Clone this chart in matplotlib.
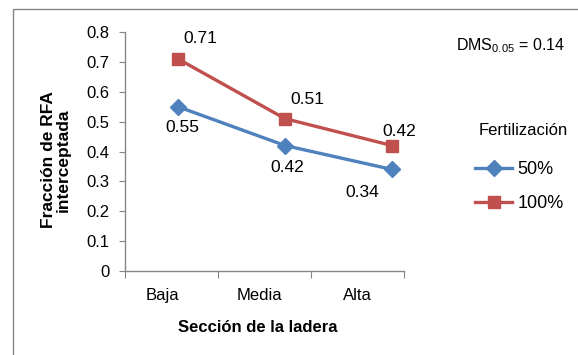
import numpy as np
import matplotlib
matplotlib.use("Agg")
import matplotlib.pyplot as plt
from matplotlib.patches import Rectangle

plt.rcParams["font.family"] = ["Liberation Sans", "DejaVu Sans"]
plt.rcParams["mathtext.default"] = "regular"

sections = ["Baja", "Media", "Alta"]
fert_50 = [0.55, 0.42, 0.34]
fert_100 = [0.71, 0.51, 0.42]
series_names = ["50%", "100%"]

blue = "#4F81BD"
red = "#C0504D"
grey = "#868686"

fig = plt.figure(figsize=(5.78, 3.55), dpi=100)
W, H = 578, 355

# outer chart frame
fig.patches.append(Rectangle((13 / W, -0.1), 1.2, 1 - 9 / H + 0.1,
                             transform=fig.transFigure, fill=False,
                             edgecolor=grey, linewidth=1.0))

ax = fig.add_axes([125 / W, 1 - 271 / H, (404 - 125) / W, (271 - 32) / H])
ax.set_xlim(0, 3)
ax.set_ylim(0, 0.8)
ax.set_facecolor("none")
for s in ["top", "right"]:
    ax.spines[s].set_visible(False)
for s in ["left", "bottom"]:
    ax.spines[s].set_color(grey)
    ax.spines[s].set_linewidth(1.0)

ax.set_yticks(np.arange(0, 0.81, 0.1))
ax.set_yticklabels(["0"] + [f"{v:.1f}" for v in np.arange(0.1, 0.81, 0.1)])
ax.tick_params(axis="y", direction="out", length=4, color=grey, labelsize=12, pad=7)

# category boundaries as major ticks, names as minor ticks
ax.set_xticks([0, 1, 2, 3])
ax.set_xticklabels([])
ax.tick_params(axis="x", which="major", direction="out", length=5, color=grey)
label_x = 0.4 + 1.05 * np.arange(len(sections))
ax.set_xticks(label_x, minor=True)
ax.set_xticklabels(sections, minor=True)
ax.tick_params(axis="x", which="minor", length=0, labelsize=12, pad=12)

x = 0.57 + 1.15 * np.arange(len(sections))
l1, = ax.plot(x, fert_50, color=blue, lw=2.4, marker="D", ms=8.5,
              markeredgecolor=blue, clip_on=False)
l2, = ax.plot(x, fert_100, color=red, lw=2.4, marker="s", ms=9,
              markeredgecolor=red, clip_on=False)

off_50 = [(4, -21), (2, -22), (-30, -23)]
off_100 = [(22, 20), (22, 19), (7, 14)]
for xi, v, o in zip(x, fert_50, off_50):
    ax.annotate(f"{v:.2f}", (xi, v), xytext=o, textcoords="offset pixels",
                ha="center", va="center", fontsize=12.5)
for xi, v, o in zip(x, fert_100, off_100):
    ax.annotate(f"{v:.2f}", (xi, v), xytext=o, textcoords="offset pixels",
                ha="center", va="center", fontsize=12.5)

fig.text(258 / W, 1 - 327 / H, "Sección de la ladera", ha="center", va="center",
         fontsize=12, fontweight="bold")
fig.text(56 / W, 1 - 160 / H, "Fracción de RFA\ninterceptada", ha="center",
         va="center", rotation=90, fontsize=12.5, fontweight="bold",
         multialignment="center", linespacing=0.95)

fig.text(456 / W, 1 - 46 / H, "DMS$_{0.05}$ = 0.14", ha="left", va="center",
         fontsize=11.5)

# legend
fig.text(568 / W, 1 - 131 / H, "Fertilización", ha="right", va="center",
         fontsize=12)
fig.legend([l1, l2], series_names, loc="upper left",
           bbox_to_anchor=(475 / W, 1 - 161 / H), frameon=False, fontsize=13,
           labelspacing=0.95, handlelength=2.05, handletextpad=0.3,
           borderpad=0, borderaxespad=0)

fig.savefig("out.png", dpi=100)
